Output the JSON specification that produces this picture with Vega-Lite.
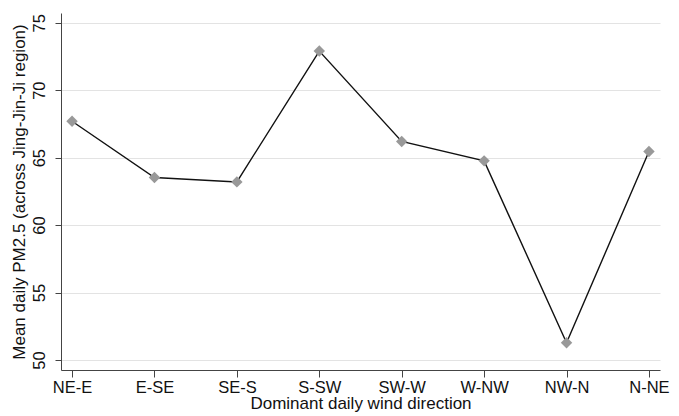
{
  "$schema": "https://vega.github.io/schema/vega-lite/v6.json",
  "width": 599,
  "height": 357,
  "autosize": {"type": "none"},
  "padding": {"left": 61, "top": 13, "right": 19, "bottom": 46},
  "background": "white",
  "config": {
    "view": {"stroke": null},
    "font": "Liberation Sans",
    "axis": {
      "labelFont": "Liberation Sans",
      "titleFont": "Liberation Sans",
      "labelColor": "#111",
      "titleColor": "#111",
      "titleFontWeight": "normal",
      "domainColor": "#444",
      "tickColor": "#444",
      "gridColor": "#e3e3e3",
      "labelFontSize": 16.5,
      "titleFontSize": 17
    }
  },
  "data": {
    "values": [
      {"dir": "NE-E", "pm": 67.7},
      {"dir": "E-SE", "pm": 63.53},
      {"dir": "SE-S", "pm": 63.2},
      {"dir": "S-SW", "pm": 72.9},
      {"dir": "SW-W", "pm": 66.2},
      {"dir": "W-NW", "pm": 64.76},
      {"dir": "NW-N", "pm": 51.28},
      {"dir": "N-NE", "pm": 65.45}
    ]
  },
  "encoding": {
    "x": {
      "field": "dir",
      "type": "ordinal",
      "sort": null,
      "scale": {"type": "point", "padding": 0.134},
      "axis": {
        "title": "Dominant daily wind direction",
        "labelAngle": 0,
        "tickSize": 7,
        "labelPadding": 2,
        "titlePadding": 0,
        "grid": false
      }
    },
    "y": {
      "field": "pm",
      "type": "quantitative",
      "scale": {"domain": [49.26, 75.72], "nice": false, "zero": false},
      "axis": {
        "title": "Mean daily PM2.5 (across Jing-Jin-Ji region)",
        "values": [50, 55, 60, 65, 70, 75],
        "labelAngle": -90,
        "labelAlign": "center",
        "labelBaseline": "bottom",
        "tickSize": 6,
        "labelPadding": 8,
        "titlePadding": 3,
        "grid": true
      }
    }
  },
  "layer": [
    {"mark": {"type": "line", "color": "#111", "strokeWidth": 1.4}},
    {"mark": {"type": "point", "shape": "diamond", "filled": true, "color": "#999999", "opacity": 1, "size": 130}}
  ]
}
